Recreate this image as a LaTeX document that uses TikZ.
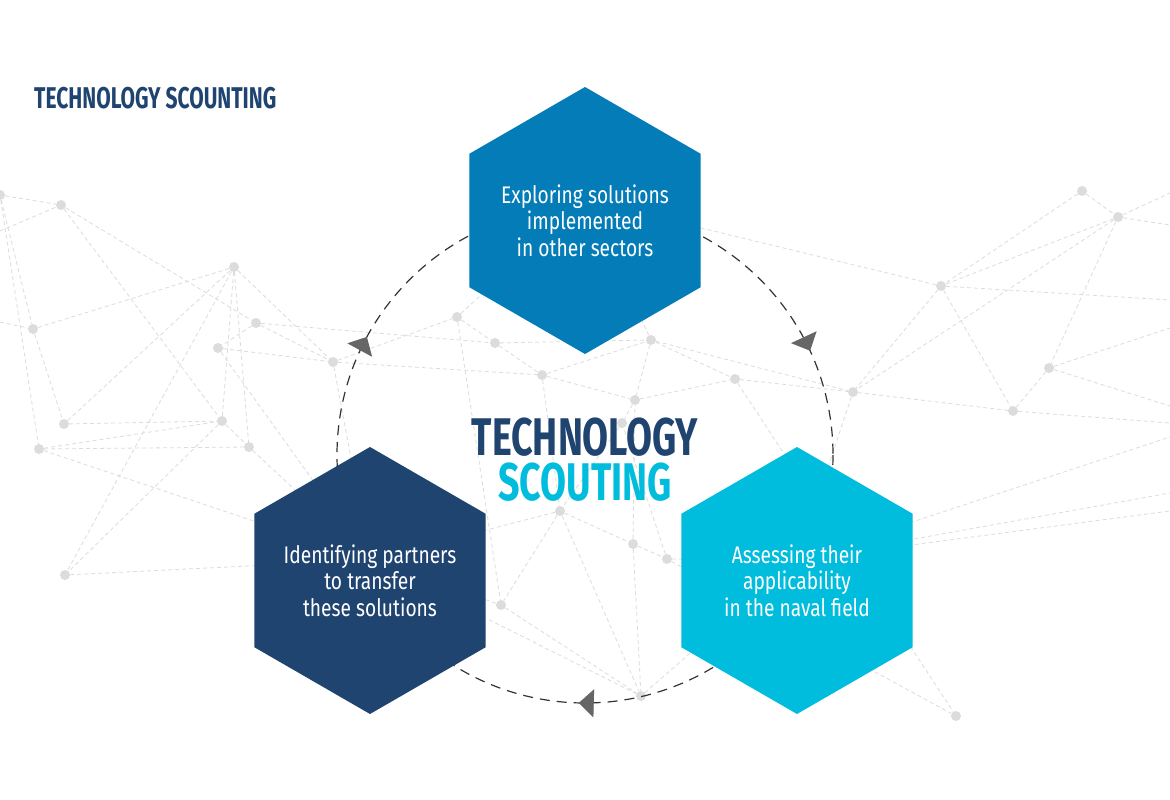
\documentclass[tikz,border=0pt]{standalone}
\usepackage{fontspec}
\setmainfont{Fira Sans}
\newfontfamily\headfont[FakeStretch=0.71]{Fira Sans}
\newfontfamily\titlefont[FakeStretch=0.7]{Fira Sans}
\newfontfamily\hexfont[FakeStretch=0.8]{Fira Sans}
\usetikzlibrary{shapes.geometric,decorations.markings,arrows.meta}

\definecolor{navy}{HTML}{1F4470}
\definecolor{ocean}{HTML}{037CB8}
\definecolor{sky}{HTML}{00BCDD}
\definecolor{netgray}{HTML}{DCDCDC}
\definecolor{tipgray}{HTML}{666666}

\tikzset{
    hexa/.style={regular polygon, regular polygon sides=6, shape border rotate=30,
        minimum size=267pt, inner sep=-30pt, text=white, align=center,
        font=\hexfont\fontsize{24}{26.5}\selectfont},
    dot/.style={circle, fill=netgray, minimum size=10pt, inner sep=0pt},
    net/.style={netgray, line width=0.8pt, dash pattern=on 4pt off 3pt},
}

\begin{document}
\begin{tikzpicture}[x=1pt, y=-1pt,
    cycle/.style={black!80, line width=1.2pt, dash pattern=on 10pt off 7pt,
        postaction={decorate, decoration={markings,
            mark=at position 0.254 with {\arrow[tipgray]{Triangle[length=15pt,width=28pt]}},
            mark=at position 0.579 with {\arrow[tipgray]{Triangle[length=15pt,width=28pt]}},
            mark=at position 0.931 with {\arrow[tipgray]{Triangle[length=15pt,width=28pt]}}}}},
    headline/.style={font=\headfont\bfseries\fontsize{53}{45}\selectfont, align=center, inner sep=0pt}]

    \useasboundingbox[fill=white] (0,0) rectangle (1170,800);

    % background network
    \foreach \n/\x/\y in {a0/0/195, a1/61/205, a2/234/267, a3/33/329, a4/256/323,
        a5/218/348, a6/333/362, a7/64/424, a8/222/421, a9/39/449, a10/249/447,
        a11/65/575, m1/457/317, m2/495/343, m3/542/375, m4/651/340, m5/635/400,
        m6/735/379, m7/853/392, m8/622/423, b1/560/511, b2/633/544, b3/667/559,
        b4/501/605, b5/641/696, r1/1082/191, r2/1118/217, r3/941/286,
        r4/1049/368, r5/1013/411, r6/956/716}
        \node[dot] (\n) at (\x,\y) {};

    \coordinate (h1) at (585,200);
    \coordinate (h2) at (370,560);
    \coordinate (h3) at (797,560);
    \coordinate (w1) at (0,231);
    \coordinate (w2) at (0,322);
    \coordinate (e1) at (1170,193);
    \coordinate (e2) at (1170,225);
    \coordinate (e3) at (1170,300);
    \coordinate (e4) at (1170,328);
    \coordinate (e5) at (1170,406);
    \coordinate (e6) at (1170,423);
    \coordinate (e7) at (1170,437);
    \coordinate (e8) at (1170,493);
    \coordinate (e9) at (1170,511);

    \foreach \a/\b in {a0/a1, w1/a1, a0/a3, a0/a9, w2/a3, a1/a4, a1/a8, a3/a2,
        a3/a7, a7/a2, a2/a8, a2/a10, a2/a11, a2/a6, a7/a8, a9/a8, a9/a10, a8/a10,
        a8/a11, a4/a5, a4/a6, a4/m2, a5/a6, a5/h2, a6/h2, a10/h2, a9/h2, a11/h2,
        a6/m1, a6/m3, m1/m2, m1/b4, m2/m3, m2/m4, m3/m4, m3/m5, m4/m5, m4/m6,
        m4/m7, m5/m6, m6/m7, m5/m8, m8/b1, m3/b1, m1/h1, m4/h1, b1/b2, b2/b3,
        b1/b4, b1/b5, b2/b5, b4/b5, b2/m5, b3/m8, b3/h3, b5/h3, b5/h2, b4/h2,
        b1/h2, b3/r6, m6/r6, m7/h3, r1/r2, r2/e1, r2/e2, r1/r3, r2/r3, r2/r4,
        r2/m7, r3/r5, r3/e3, r3/m7, r3/h1, r4/r5, r4/e4, r4/e5, r5/e6, m7/r5,
        h3/e7, h3/e8, h3/e9}
        \draw[net] (\a) -- (\b);

    % cycle
    \coordinate (C) at (585,455);
    \draw[cycle] (C) circle (248);

    % hexagons
    \node[hexa, fill=ocean] (H1) at (585,220.5) {Exploring solutions\\implemented\\in other sectors};
    \node[hexa, fill=sky] (H2) at (797,580.5) {Assessing their\\applicability\\in the naval field};
    \node[hexa, fill=navy] (H3) at (370,580.5) {Identifying partners\\to transfer\\these solutions};

    % titles
    \node[font=\titlefont\bfseries\fontsize{30}{30}\selectfont, text=navy, anchor=base west, inner sep=0pt]
        (title) at (34,108) {TECHNOLOGY SCOUNTING};
    \node[headline] (core) at (585,460) {\textcolor{navy}{TECHNOLOGY}\\\textcolor{sky}{SCOUTING}};
\end{tikzpicture}
\end{document}
